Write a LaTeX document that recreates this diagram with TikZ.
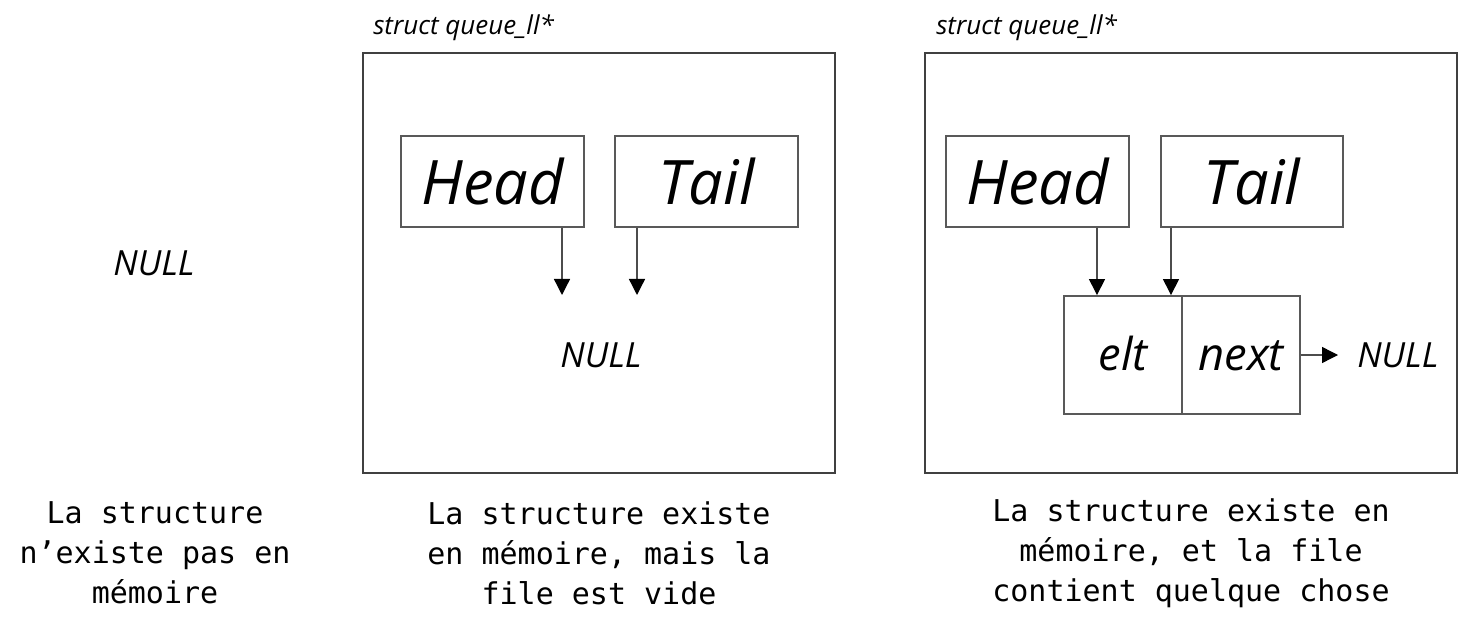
\documentclass[tikz,border=0pt]{standalone}
\usepackage{fontspec}
\setmainfont{Open Sans}
\newfontfamily\capfont{DejaVu Sans Mono}
\usetikzlibrary{arrows.meta,fit}

\begin{document}
\begin{tikzpicture}[x=0.75pt,y=-0.75pt,
  frame/.style={draw=black!75,line width=1.5pt,inner sep=0pt},
  cell/.style={draw=black!65,line width=1.4pt,inner sep=0pt},
  ptr/.style={draw=black!70,line width=1pt,-{Triangle[length=12pt,width=12pt,color=black]}},
  bigtxt/.style={font=\itshape\fontsize{46}{46}\selectfont},
  midtxt/.style={font=\itshape\fontsize{34}{34}\selectfont,text height=22.5pt,text depth=0pt},
  nulltxt/.style={font=\itshape\fontsize{26}{26}\selectfont},
  typetxt/.style={font=\itshape\fontsize{19.5}{19.5}\selectfont,anchor=base west,inner sep=0pt},
  caption/.style={font=\capfont\fontsize{22.5}{30}\selectfont,align=center}
]
\useasboundingbox (0,0) rectangle (1460,627);

% --- case 1: no structure ---
\node[nulltxt] (null1) at (154,263) {NULL};
\node[caption] (cap1) at (155,553) {La structure\\n’existe pas en\\mémoire};

% --- case 2: empty queue ---
\node[typetxt] (type2) at (373,35) {struct queue\_ll*};
\node[frame,fit={(363,53) (835,473)}] (box2) {};
\node[cell,fit={(401,136) (584,227)}] (head2) {};
\node[bigtxt] at (head2.center) {Head};
\node[cell,fit={(615,136) (798,227)}] (tail2) {};
\node[bigtxt] at (tail2.center) {Tail};
\coordinate (h2end) at (562,295);
\coordinate (t2end) at (637,295);
\draw[ptr] (head2.south -| h2end) -- (h2end);
\draw[ptr] (tail2.south -| t2end) -- (t2end);
\node[nulltxt] (null2) at (601,355) {NULL};
\node[caption] (cap2) at (599,553) {La structure existe\\en mémoire, mais la\\file est vide};

% --- case 3: one element ---
\node[typetxt] (type3) at (936,35) {struct queue\_ll*};
\node[frame,fit={(925,53) (1457,473)}] (box3) {};
\node[cell,fit={(946,136) (1129,227)}] (head3) {};
\node[bigtxt] at (head3.center) {Head};
\node[cell,fit={(1161,136) (1343,227)}] (tail3) {};
\node[bigtxt] at (tail3.center) {Tail};
\node[cell,fit={(1064,296) (1182,414)}] (elt) {};
\node[midtxt] at (elt.center) {elt};
\node[cell,fit={(1182,296) (1300,414)}] (next) {};
\node[midtxt] at (next.center) {next};
\coordinate (h3x) at (1097,0);
\coordinate (t3x) at (1171,0);
\draw[ptr] (head3.south -| h3x) -- (elt.north -| h3x);
\draw[ptr] (tail3.south -| t3x) -- (elt.north -| t3x);
\coordinate (n3end) at (1338,355);
\draw[ptr] (next.east) -- (n3end);
\node[nulltxt,anchor=west,inner sep=0pt] (null3) at (1357,355) {NULL};
\node[caption] (cap3) at (1191,553) {La structure existe en\\mémoire, et la file\\contient quelque chose};
\end{tikzpicture}
\end{document}
